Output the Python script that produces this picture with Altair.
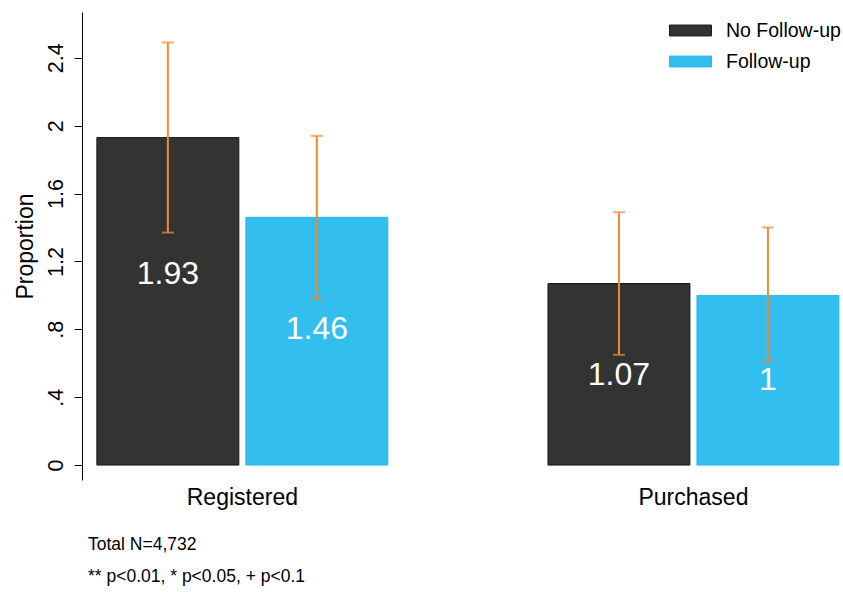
import altair as alt
import pandas as pd

groups = ["Registered", "Registered", "Purchased", "Purchased"]
series = ["No Follow-up", "Follow-up", "No Follow-up", "Follow-up"]
values = [1.93, 1.46, 1.07, 1.0]
lower = [1.37, 0.98, 0.65, 0.61]
upper = [2.49, 1.94, 1.49, 1.40]
labels = ["1.93", "1.46", "1.07", "1"]
y_ticks = [0, 0.4, 0.8, 1.2, 1.6, 2.0, 2.4]
notes = ["Total N=4,732", "** p<0.01, * p<0.05, + p<0.1"]

group_order = ["Registered", "Purchased"]
series_order = ["No Follow-up", "Follow-up"]
colors = ["#333333", "#33BEF0"]
strokes = ["#1a1a1a", "#2EB8EA"]
err_color = "#F28A30"

df = pd.DataFrame({
    "group": groups, "series": series, "value": values,
    "lower": lower, "upper": upper, "label": labels,
})

FONT = "Liberation Sans"

x_enc = alt.X(
    "group:N", sort=group_order, title=None,
    scale=alt.Scale(paddingInner=0.355, paddingOuter=0.021, align=0.785),
    axis=alt.Axis(domain=False, ticks=False, labelAngle=0, labelFontSize=23,
                  labelColor="black", labelPadding=6, labelFont=FONT),
)
xo_enc = alt.XOffset("series:N", sort=series_order,
                     scale=alt.Scale(paddingInner=0.047, paddingOuter=0))
yscale = alt.Scale(domain=[-0.088, 2.67], nice=False, zero=False)

legend_spec = dict(title=None, orient="none", legendX=587, legendY=-3,
                   symbolType="M-1,-0.26H1V0.26H-1Z", symbolSize=1764,
                   symbolStrokeWidth=1,
                   labelFontSize=19.5, labelFont=FONT, labelColor="black",
                   labelOffset=14, rowPadding=0)

base = alt.Chart(df)

bars = base.mark_bar(strokeWidth=1).encode(
    x=x_enc, xOffset=xo_enc,
    y=alt.Y("value:Q", scale=yscale, title="Proportion",
            axis=alt.Axis(values=y_ticks, grid=False, domainColor="black",
                          tickColor="black", tickSize=8, labelAngle=-90,
                          labelAlign="center", labelBaseline="bottom",
                          labelFontSize=21.5, labelColor="black", labelPadding=7,
                          labelFont=FONT, titleFont=FONT, titleFontSize=23,
                          titleFontWeight="normal", titleColor="black",
                          titlePadding=8,
                          labelExpr="datum.value == 0 ? '0' : (datum.value < 1 ? substring(format(datum.value, '.1f'), 1) : format(datum.value, '~g'))")),
    y2=alt.datum(0),
    color=alt.Color("series:N", sort=series_order,
                    scale=alt.Scale(domain=series_order, range=colors),
                    legend=alt.Legend(**legend_spec)),
    stroke=alt.Stroke("series:N", sort=series_order,
                      scale=alt.Scale(domain=series_order, range=strokes),
                      legend=alt.Legend(**legend_spec)),
)

rules = base.mark_rule(color=err_color, strokeWidth=2).encode(
    x=x_enc, xOffset=xo_enc, y=alt.Y("lower:Q", scale=yscale), y2="upper:Q",
)

caps = base.transform_fold(["lower", "upper"], as_=["end", "pos"]).mark_tick(
    color=err_color, thickness=2, size=12, orient="horizontal"
).encode(x=x_enc, xOffset=xo_enc, y=alt.Y("pos:Q", scale=yscale))

texts = base.transform_calculate(label_y="datum.lower * 0.82").mark_text(
    color="white", fontSize=32, font=FONT, baseline="middle"
).encode(
    x=x_enc, xOffset=xo_enc, y=alt.Y("label_y:Q", scale=yscale), text="label:N",
)

note_df = pd.DataFrame({"note": notes})
note1 = alt.Chart(note_df.iloc[[0]]).mark_text(
    align="left", baseline="middle", fontSize=17.5, font=FONT, color="black"
).encode(x=alt.value(6), y=alt.value(533), text="note:N")
note2 = alt.Chart(note_df.iloc[[1]]).mark_text(
    align="left", baseline="middle", fontSize=17.5, font=FONT, color="black"
).encode(x=alt.value(6), y=alt.value(565), text="note:N")

chart = alt.layer(bars, rules, caps, texts, note1, note2).properties(
    width=761, height=468,
    autosize=alt.AutoSizeParams(type="none"),
    padding={"left": 82, "top": 12, "right": 0, "bottom": 112},
).configure(font=FONT).configure_view(stroke=None)

chart.save("out.html", embed_options={"renderer": "svg", "actions": False})
